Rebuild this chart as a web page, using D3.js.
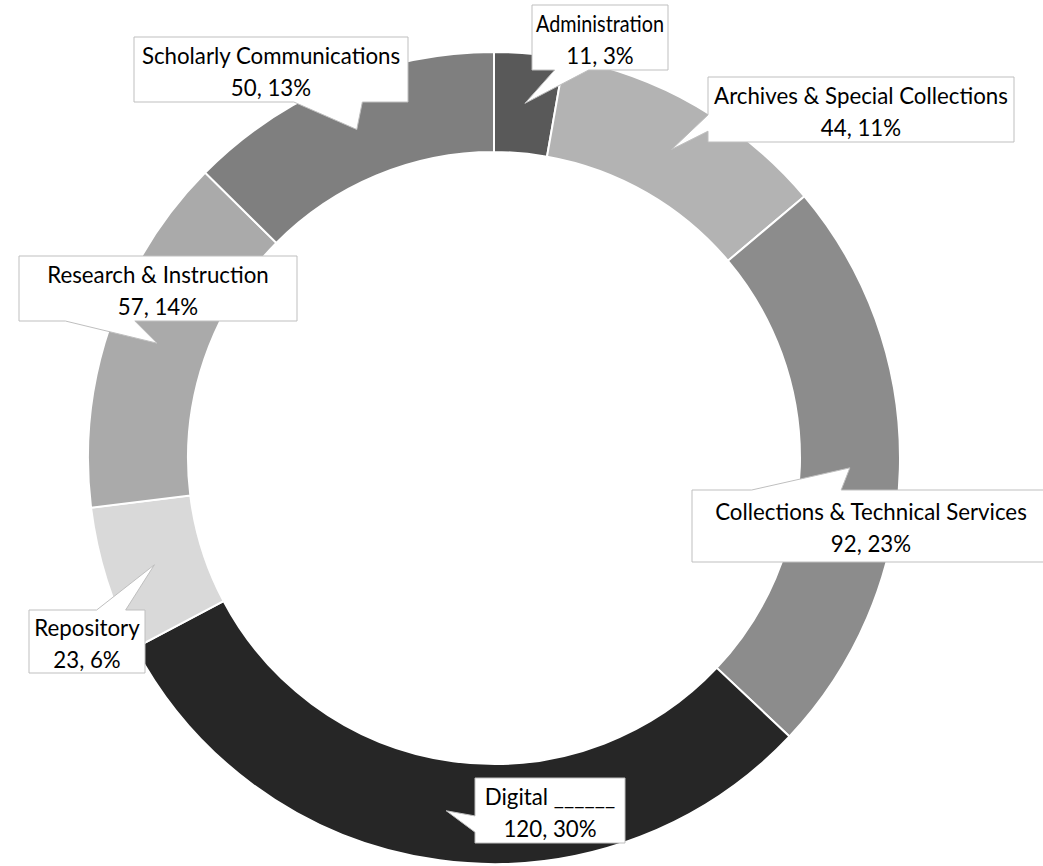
<!DOCTYPE html>
<html>
<head>
<meta charset="utf-8">
<script src="https://cdn.jsdelivr.net/npm/d3@7"></script>
<style>
  body { margin: 0; background: #fff; }
  svg { display: block; }
</style>
</head>
<body>
<div id="chart"></div>
<script>
// data, clockwise from 12 o'clock
const categories = ["Administration", "Archives & Special Collections", "Collections & Technical Services",
    "Digital", "Repository", "Research & Instruction", "Scholarly Communications"];
const values = [11, 44, 92, 120, 23, 57, 50];
const labelNames = ["Administration", "Archives & Special Collections", "Collections & Technical Services",
    "Digital ______", "Repository", "Research & Instruction", "Scholarly Communications"];
const colors = ["#595959", "#b3b3b3", "#8c8c8c", "#262626", "#d9d9d9", "#aaaaaa", "#7f7f7f"];

const width = 1043, height = 866;
const cx = 494, cy = 458, outerR = 406, innerR = 306;

// callout boxes [x, y, w, h]
const boxes = [
    [532, 5, 136, 65],
    [708, 77, 306, 65],
    [692, 490, 358, 72],
    [475, 778, 150, 65],
    [29, 610, 116, 63],
    [19, 256, 278, 65],
    [134, 37, 274, 65]
];

const total = d3.sum(values);

const svg = d3.select("#chart")
    .append("svg")
    .attr("width", width)
    .attr("height", height)
    .style("background", "#fff");

const pie = d3.pie().sort(null).value(d => d)(values);
const arc = d3.arc().innerRadius(innerR).outerRadius(outerR);

const g = svg.append("g").attr("transform", `translate(${cx},${cy})`);

g.selectAll("path.slice")
    .data(pie)
    .join("path")
    .attr("class", "slice")
    .attr("d", arc)
    .attr("fill", (d, i) => colors[i])
    .attr("stroke", "#fff")
    .attr("stroke-width", 2);

// rectangle callout with a wedge pointing at the tip (like Excel's wedgeRectCallout)
function calloutPath(b, tip) {
    const [x, y, w, h] = b;
    const r = x + w, bt = y + h;
    const dxPos = tip[0] - (x + w / 2), dyPos = tip[1] - (y + h / 2);
    const dx = dxPos * h, dy = dyPos * w;
    let pts;
    if (Math.abs(dy) >= Math.abs(dx)) {
        const a = dxPos < 0 ? [x + w * 2 / 12, x + w * 5 / 12] : [x + w * 7 / 12, x + w * 10 / 12];
        if (dy < 0) pts = [[x, y], [a[0], y], tip, [a[1], y], [r, y], [r, bt], [x, bt]];
        else pts = [[x, y], [r, y], [r, bt], [a[1], bt], tip, [a[0], bt], [x, bt]];
    } else {
        const a = dyPos < 0 ? [y + h * 2 / 12, y + h * 5 / 12] : [y + h * 7 / 12, y + h * 10 / 12];
        if (dx < 0) pts = [[x, y], [r, y], [r, bt], [x, bt], [x, a[1]], tip, [x, a[0]]];
        else pts = [[x, y], [r, y], [r, a[0]], tip, [r, a[1]], [r, bt], [x, bt]];
    }
    return "M" + pts.map(p => p.join(",")).join("L") + "Z";
}

// pick a font size so the text width is close to the original
const probe = svg.append("text").attr("font-family", "Lato, 'Open Sans', sans-serif")
    .attr("font-size", 20).text("Archives & Special Collections");
const fontSize = 20 * 294 / probe.node().getComputedTextLength();
probe.remove();

const labels = svg.append("g");
pie.forEach((d, i) => {
    const c = arc.centroid(d);
    const tip = [cx + c[0], cy + c[1]];
    const b = boxes[i];
    const lg = labels.append("g");
    lg.append("path")
        .attr("d", calloutPath(b, tip))
        .attr("fill", "#fff")
        .attr("stroke", "#bfbfbf")
        .attr("stroke-width", 1);
    const mx = b[0] + b[2] / 2, my = b[1] + b[3] / 2;
    const t = lg.append("text")
        .attr("font-family", "Lato, 'Open Sans', sans-serif")
        .attr("font-size", fontSize)
        .attr("fill", "#000")
        .attr("text-anchor", "middle");
    const name = t.append("tspan").attr("x", mx).attr("y", my - 6).text(labelNames[i]);
    // keep the name inside narrow boxes
    const maxW = b[2] - 8;
    if (name.node().getComputedTextLength() > maxW) {
        name.attr("textLength", maxW).attr("lengthAdjust", "spacingAndGlyphs");
    }
    t.append("tspan").attr("x", mx).attr("y", my + 26)
        .text(values[i] + ", " + Math.round(values[i] / total * 100) + "%");
});
</script>
</body>
</html>
